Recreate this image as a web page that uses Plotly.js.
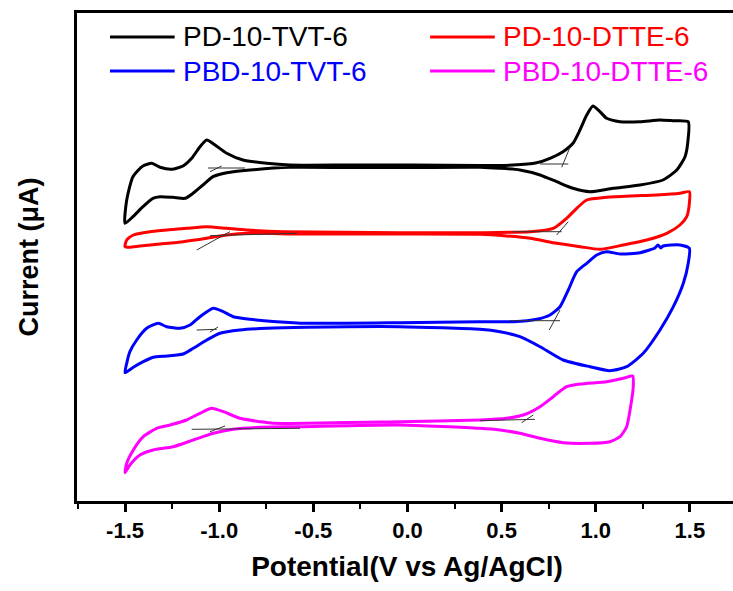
<!DOCTYPE html>
<html>
<head>
<meta charset="utf-8">
<script src="https://cdn.plot.ly/plotly-3.0.1.min.js"></script>
<style>html,body{margin:0;padding:0;overflow:hidden;background:#fff;}</style>
</head>
<body>
<div id="chart" style="width:740px;height:591px;"></div>
<script>
// Potential (V vs Ag/AgCl) and current (arbitrary offset units)
const pdTvtX = [-1.500,-1.491,-1.458,-1.405,-1.358,-1.314,-1.252,-1.192,-1.146,-1.102,-1.066,-1.022,-0.960,-0.874,-0.748,-0.624,-0.305,0.024,0.385,0.560,0.686,0.757,0.826,0.879,0.916,0.952,0.985,1.022,1.058,1.129,1.235,1.341,1.410,1.491,
  1.490,1.474,1.430,1.357,1.235,1.091,0.969,0.879,0.792,0.704,0.597,0.491,0.385,0.024,-0.305,-0.624,-0.836,-0.960,-1.033,-1.086,-1.139,-1.181,-1.245,-1.314,-1.352,-1.405,-1.458,-1.500];
const pdTvtY = [27.97,30.30,32.63,33.70,33.97,33.57,33.37,33.70,34.47,35.63,36.30,35.80,34.97,34.30,33.97,33.80,33.80,33.80,33.75,33.80,34.03,34.47,35.13,35.97,37.30,38.80,39.70,39.13,38.47,38.13,38.13,38.30,38.23,38.13,
  36.30,34.63,33.30,32.30,31.80,31.47,31.13,31.47,32.13,32.80,33.30,33.47,33.57,33.55,33.55,33.57,33.30,33.03,32.63,31.80,30.97,30.47,30.57,30.63,30.47,29.63,28.63,27.97];

const pdDtteX = [-1.500,-1.491,-1.456,-1.403,-1.279,-1.173,-1.066,-0.960,-0.854,-0.660,-0.040,0.385,0.651,0.774,0.845,0.899,0.952,1.058,1.182,1.323,1.447,1.497,
  1.497,1.483,1.447,1.377,1.270,1.146,1.022,0.916,0.792,0.651,0.527,0.385,-0.040,-0.571,-0.836,-0.960,-1.066,-1.191,-1.314,-1.421,-1.474,-1.500];
const pdDtteY = [25.63,26.30,26.80,27.03,27.30,27.47,27.63,27.47,27.30,27.13,27.03,27.03,27.13,27.47,28.47,29.47,30.30,30.57,30.70,30.80,30.97,31.13,
  29.97,28.63,27.80,26.97,26.30,25.80,25.37,25.63,25.97,26.47,26.70,26.87,26.90,26.90,26.97,26.80,26.47,26.13,25.90,25.70,25.57,25.63];

const pbdTvtX = [-1.500,-1.491,-1.474,-1.438,-1.385,-1.323,-1.279,-1.208,-1.155,-1.102,-1.031,-0.978,-0.925,-0.836,-0.695,-0.535,-0.040,0.385,0.562,0.686,0.757,0.810,0.854,0.899,0.952,1.005,1.058,1.129,1.235,1.314,1.330,1.346,1.358,1.447,1.497,
  1.491,1.465,1.412,1.341,1.252,1.164,1.075,0.969,0.827,0.704,0.597,0.491,0.385,-0.040,-0.535,-0.748,-0.890,-0.996,-1.066,-1.138,-1.191,-1.279,-1.350,-1.403,-1.456,-1.500];
const pbdTvtY = [13.03,13.97,15.13,16.30,17.47,17.97,17.63,17.47,17.80,18.63,19.47,19.13,18.63,18.37,18.13,17.97,18.03,18.13,18.13,18.37,18.80,19.63,21.30,23.13,23.97,24.80,25.13,24.90,25.03,25.50,25.80,25.50,25.70,25.80,25.47,
  23.97,21.97,19.63,17.30,14.97,13.63,13.23,13.63,14.30,15.63,16.63,17.13,17.37,17.63,17.57,17.47,17.30,16.97,16.30,15.47,14.90,14.70,14.57,14.13,13.57,13.03];

const pbdDtteX = [-1.500,-1.491,-1.456,-1.403,-1.332,-1.261,-1.173,-1.102,-1.040,-0.978,-0.890,-0.783,-0.713,-0.040,0.385,0.527,0.615,0.704,0.774,0.845,0.916,1.058,1.146,1.196,
  1.199,1.182,1.164,1.129,1.075,0.969,0.827,0.704,0.597,0.491,0.385,-0.040,-0.571,-0.783,-0.925,-1.031,-1.138,-1.244,-1.350,-1.421,-1.474,-1.500];
const pbdDtteY = [3.03,3.97,5.30,6.63,7.47,7.80,8.30,8.97,9.47,9.13,8.47,8.13,7.97,8.13,8.30,8.47,8.80,9.63,10.63,11.63,11.90,12.13,12.47,12.70,
  11.63,9.30,7.63,6.63,6.13,5.97,6.03,6.47,6.97,7.30,7.47,7.80,7.63,7.57,7.37,6.97,6.30,5.63,5.30,4.80,3.80,3.03];

// onset tangent construction lines
const tangentX = [-1.060,-0.863,null,-1.049,-0.987,null,0.704,0.854,null,0.819,0.863,null,
  -1.049,-0.588,null,-1.119,-0.943,null,0.562,0.819,null,0.792,0.854,null,
  -1.119,-1.013,null,-1.049,-1.006,null,0.544,0.810,null,0.753,0.810,null,
  -1.146,-0.571,null,-1.049,-0.969,null,0.385,0.677,null,0.606,0.668];
const tangentY = [33.50,33.50,null,33.13,33.70,null,33.90,33.90,null,33.57,35.57,null,
  26.73,26.97,null,25.30,27.13,null,27.13,27.13,null,26.80,28.13,null,
  17.30,17.37,null,17.10,17.60,null,18.23,18.23,null,17.30,19.30,null,
  7.37,7.47,null,7.13,7.70,null,8.23,8.37,null,8.03,8.80];

const seriesNames = ['PD-10-TVT-6','PD-10-DTTE-6','PBD-10-TVT-6','PBD-10-DTTE-6'];
const seriesColors = ['#000000','#ff0000','#0000ff','#ff00ff'];
const xTickVals = [-1.5,-1.0,-0.5,0.0,0.5,1.0,1.5];
const xTickText = ['-1.5','-1.0','-0.5','0.0','0.5','1.0','1.5'];

const xs = [pdTvtX, pdDtteX, pbdTvtX, pbdDtteX];
const ys = [pdTvtY, pdDtteY, pbdTvtY, pbdDtteY];

const traces = xs.map((x, i) => ({
  x: x, y: ys[i], type: 'scatter', mode: 'lines', name: seriesNames[i],
  line: {color: seriesColors[i], width: 3, shape: 'spline', smoothing: 0.6},
  showlegend: false, hoverinfo: 'skip'
}));
traces.push({
  x: tangentX, y: tangentY, type: 'scatter', mode: 'lines',
  line: {color: '#333333', width: 1}, showlegend: false, hoverinfo: 'skip', connectgaps: false
});

// manual legend (two columns, coloured labels)
const legPos = [[0.05, 0.0], [0.535, 0.0], [0.05, 1.0], [0.535, 1.0]];
const shapes = [];
const annotations = [];
const rowY = [0.951, 0.881];
seriesNames.forEach((n, i) => {
  const col = i % 2, row = Math.floor(i / 2);
  const x0 = col === 0 ? 0.05 : 0.535;
  shapes.push({type: 'line', xref: 'paper', yref: 'paper', x0: x0, x1: x0 + 0.098,
    y0: rowY[row], y1: rowY[row], line: {color: seriesColors[i], width: 3}});
  annotations.push({xref: 'paper', yref: 'paper', x: x0 + 0.107, y: rowY[row],
    xanchor: 'left', yanchor: 'middle', showarrow: false, text: n,
    font: {family: 'Liberation Sans, Arial, sans-serif', size: 28, color: seriesColors[i]}});
});

const layout = {
  width: 740, height: 591,
  margin: {l: 77, r: 3, t: 13, b: 90},
  paper_bgcolor: '#ffffff', plot_bgcolor: '#ffffff',
  showlegend: false,
  xaxis: {
    range: [-1.755, 1.75], showgrid: false, zeroline: false,
    showline: true, linecolor: '#000', linewidth: 3, mirror: true,
    ticks: 'outside', ticklen: 8, tickwidth: 3, tickcolor: '#000',
    tickvals: xTickVals, ticktext: xTickText,
    minor: {ticks: 'outside', dtick: 0.25, tick0: -1.75, ticklen: 5, tickwidth: 2, tickcolor: '#000', showgrid: false},
    tickfont: {family: 'Liberation Sans, Arial, sans-serif', size: 22, weight: 'bold', color: '#000'},
    title: {text: 'Potential(V vs Ag/AgCl)', standoff: 14,
      font: {family: 'Liberation Sans, Arial, sans-serif', size: 28, weight: 'bold', color: '#000'}}
  },
  yaxis: {
    range: [0.2, 49.0], showgrid: false, zeroline: false,
    showline: true, linecolor: '#000', linewidth: 3, mirror: true,
    ticks: '', showticklabels: false,
    title: {text: 'Current (μA)', standoff: 28,
      font: {family: 'Liberation Sans, Arial, sans-serif', size: 27, weight: 'bold', color: '#000'}}
  },
  shapes: shapes,
  annotations: annotations
};

Plotly.newPlot('chart', traces, layout, {displayModeBar: false, staticPlot: true});
</script>
</body>
</html>
